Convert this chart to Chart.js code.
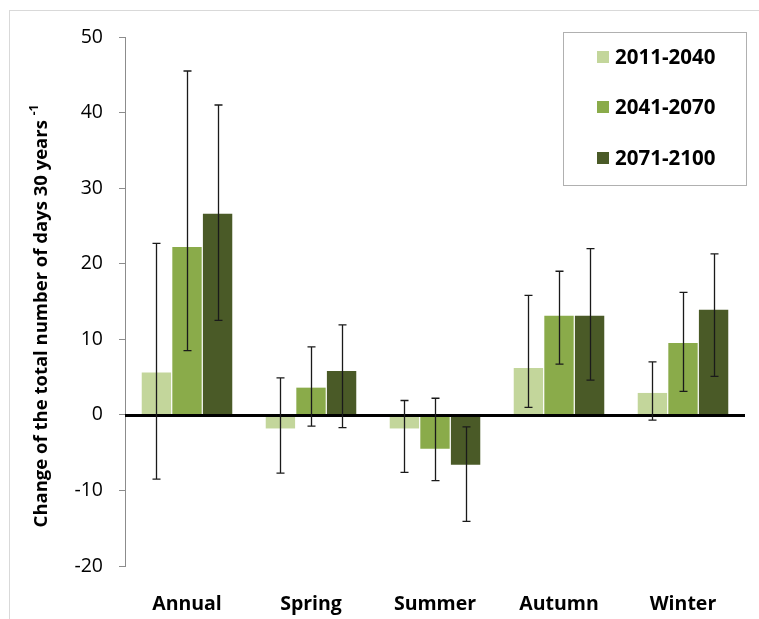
<!DOCTYPE html>
<html>
<head>
<meta charset="utf-8">
<script src="https://cdn.jsdelivr.net/npm/chart.js@4.4.1/dist/chart.umd.min.js"></script>
<style>
  html, body { margin: 0; padding: 0; background: #fff; }
  #wrap { width: 759px; height: 619px; position: relative; }
</style>
</head>
<body>
<div id="wrap"><canvas id="chart"></canvas></div>
<script>
/* ---------- data ---------- */
const categories = ["Annual", "Spring", "Summer", "Autumn", "Winter"];
const periods = ["2011-2040", "2041-2070", "2071-2100"];
const colors = ["#c3d69b", "#8aab4a", "#4a5a27"];

// mean change per period
const values2011 = [5.6, -1.8, -1.8, 6.2, 2.9];
const values2041 = [22.2, 3.6, -4.5, 13.1, 9.5];
const values2071 = [26.6, 5.8, -6.6, 13.1, 13.9];

// error bar ranges (low / high)
const low2011 = [-8.5, -7.7, -7.6, 1.0, -0.7];
const high2011 = [22.7, 4.9, 1.9, 15.8, 7.0];
const low2041 = [8.5, -1.5, -8.7, 6.7, 3.1];
const high2041 = [45.5, 9.0, 2.2, 19.0, 16.2];
const low2071 = [12.5, -1.7, -14.1, 4.6, 5.1];
const high2071 = [41.0, 11.9, -1.6, 22.0, 21.3];

const yTicks = [-20, -10, 0, 10, 20, 30, 40, 50];

const FONT = "'Open Sans', sans-serif";

const series = [
  { label: periods[0], data: values2011, low: low2011, high: high2011 },
  { label: periods[1], data: values2041, low: low2041, high: high2041 },
  { label: periods[2], data: values2071, low: low2071, high: high2071 }
];

/* ---------- plugins ---------- */

// thin grey frame round the figure
const framePlugin = {
  id: "frame",
  beforeDraw(chart) {
    const ctx = chart.ctx;
    ctx.save();
    ctx.strokeStyle = "#d9d9d9";
    ctx.lineWidth = 1;
    ctx.strokeRect(9.5, 10.5, chart.width + 20, chart.height + 20);
    ctx.restore();
  }
};

// zero line + error bars on top of the bars
const errorBarPlugin = {
  id: "errorBars",
  afterDatasetsDraw(chart) {
    const ctx = chart.ctx;
    const y = chart.scales.y;
    const area = chart.chartArea;

    ctx.save();
    ctx.strokeStyle = "#000";
    ctx.lineWidth = 3;
    const y0 = Math.round(y.getPixelForValue(0)) + 0.5;
    ctx.beginPath();
    ctx.moveTo(area.left, y0);
    ctx.lineTo(area.right, y0);
    ctx.stroke();

    ctx.strokeStyle = "#1a1a1a";
    ctx.lineWidth = 1.3;
    chart.data.datasets.forEach((ds, di) => {
      const meta = chart.getDatasetMeta(di);
      meta.data.forEach((bar, i) => {
        const x = Math.round(bar.x) + 0.5;
        const yl = y.getPixelForValue(ds.low[i]);
        const yh = y.getPixelForValue(ds.high[i]);
        ctx.beginPath();
        ctx.moveTo(x, yl);
        ctx.lineTo(x, yh);
        ctx.moveTo(x - 4, yl);
        ctx.lineTo(x + 4, yl);
        ctx.moveTo(x - 4, yh);
        ctx.lineTo(x + 4, yh);
        ctx.stroke();
      });
    });
    ctx.restore();
  }
};

// boxed legend in the top right corner
const boxLegendPlugin = {
  id: "boxLegend",
  afterDraw(chart) {
    const ctx = chart.ctx;
    ctx.save();
    ctx.strokeStyle = "#b0b0b0";
    ctx.lineWidth = 1;
    ctx.strokeRect(563.5, 32.5, 183, 153);
    ctx.font = "bold 20.5px " + FONT;
    ctx.textBaseline = "middle";
    ctx.textAlign = "left";
    const rows = [57, 107, 158];
    chart.data.datasets.forEach((ds, i) => {
      ctx.fillStyle = ds.backgroundColor;
      ctx.fillRect(597, rows[i] - 6, 12, 12);
      ctx.fillStyle = "#000";
      ctx.fillText(ds.label, 615, rows[i] + 1);
    });
    ctx.restore();
  }
};

// rotated y axis title with a superscript exponent
const yTitlePlugin = {
  id: "yTitle",
  afterDraw(chart) {
    const ctx = chart.ctx;
    const main = "Change of the total number of days 30 years ";
    const sup = "-1";
    ctx.save();
    ctx.translate(42, 316);
    ctx.rotate(-Math.PI / 2);
    ctx.fillStyle = "#000";
    ctx.textBaseline = "middle";
    ctx.font = "bold 18.5px " + FONT;
    const w1 = ctx.measureText(main).width;
    ctx.font = "bold 12px " + FONT;
    const w2 = ctx.measureText(sup).width;
    const start = -(w1 + w2) / 2;
    ctx.font = "bold 18.5px " + FONT;
    ctx.textAlign = "left";
    ctx.fillText(main, start, 0);
    ctx.font = "bold 12px " + FONT;
    ctx.fillText(sup, start + w1, -7);
    ctx.restore();
  }
};

/* ---------- chart ---------- */

new Chart(document.getElementById("chart"), {
  type: "bar",
  data: {
    labels: categories,
    datasets: series.map((s, i) => ({
      label: s.label,
      data: s.data,
      low: s.low,
      high: s.high,
      backgroundColor: colors[i],
      borderWidth: 0,
      categoryPercentage: 0.74,
      barPercentage: 0.96
    }))
  },
  options: {
    responsive: true,
    maintainAspectRatio: false,
    animation: false,
    layout: { padding: { top: 37, right: 14, left: 0, bottom: 0 } },
    plugins: {
      legend: { display: false },
      tooltip: { enabled: false }
    },
    scales: {
      x: {
        grid: { display: false },
        border: { display: false },
        ticks: {
          color: "#000",
          font: { family: FONT, size: 19.5, weight: "bold" },
          padding: 19
        },
        afterFit: (scale) => { scale.height = 53; }
      },
      y: {
        min: -20,
        max: 50,
        afterBuildTicks: (scale) => {
          scale.ticks = yTicks.map((v) => ({ value: v }));
        },
        grid: {
          drawOnChartArea: false,
          drawTicks: true,
          tickLength: 6,
          color: "#8c8c8c"
        },
        border: { display: true, color: "#8c8c8c", width: 1 },
        ticks: {
          color: "#000",
          font: { family: FONT, size: 19.5 },
          padding: 16
        },
        afterFit: (scale) => { scale.width = 125; }
      }
    }
  },
  plugins: [framePlugin, errorBarPlugin, boxLegendPlugin, yTitlePlugin]
});
</script>
</body>
</html>
